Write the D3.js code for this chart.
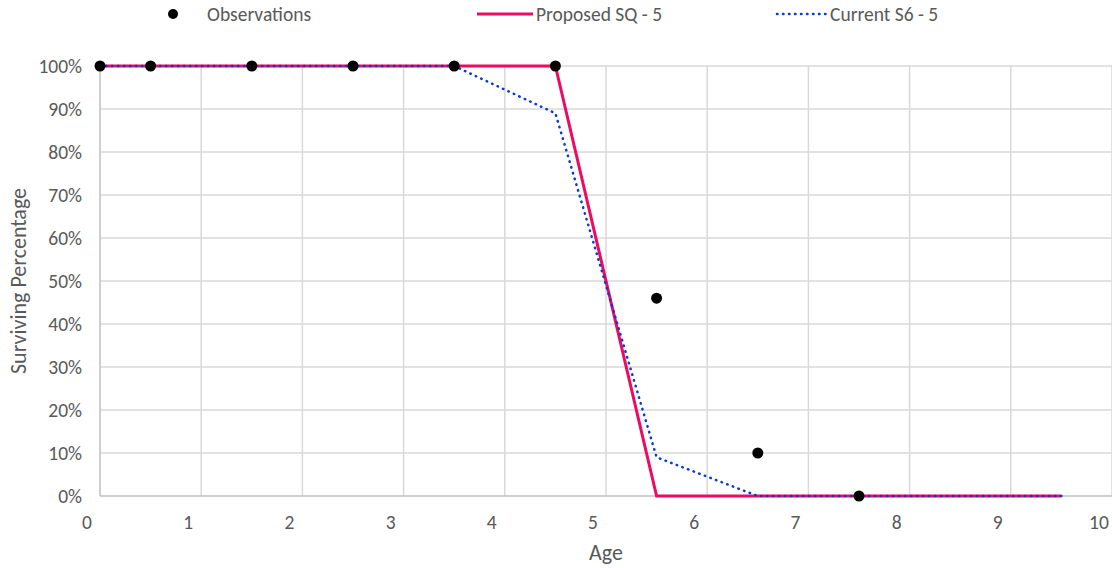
<!DOCTYPE html>
<html><head><meta charset="utf-8">
<script src="https://cdn.jsdelivr.net/npm/d3@7"></script>
<style>body{margin:0;background:#fff}svg{display:block}text{font-family:Carlito,Calibri,"Open Sans",sans-serif;fill:#595959}</style>
</head><body><svg id="c" width="1112" height="568"></svg>
<script>
const obsAge = [0, 0.5, 1.5, 2.5, 3.5, 4.5, 5.5, 6.5, 7.5];
const obsVal = [1, 1, 1, 1, 1, 1, 0.46, 0.10, 0];
const curveAge = [0, 0.5, 1.5, 2.5, 3.5, 4.5, 5.5, 6.5, 7.5, 8.5, 9.5];
const proposedVal = [1, 1, 1, 1, 1, 1, 0, 0, 0, 0, 0];
const currentVal = [1, 1, 1, 1, 1, 0.89, 0.09, 0, 0, 0, 0];
const xTicks = [0,1,2,3,4,5,6,7,8,9,10];
const yTicks = [0,0.1,0.2,0.3,0.4,0.5,0.6,0.7,0.8,0.9,1];

const svg = d3.select("#c");
const x = d3.scaleLinear().domain([0,10]).range([100,1112]);
const y = d3.scaleLinear().domain([0,1]).range([496,66]);
const labelShift = -13;
const fs = 19.5, tfs = 22;

// gridlines
svg.append("g").selectAll("line").data(yTicks.filter(d=>d>0)).join("line")
  .attr("x1",x(0)).attr("x2",x(10)).attr("y1",d=>y(d)).attr("y2",d=>y(d))
  .attr("stroke","#d9d9d9").attr("stroke-width",1.5);
svg.append("g").selectAll("line").data(xTicks.filter(d=>d>0)).join("line")
  .attr("x1",d=>x(d)).attr("x2",d=>x(d)).attr("y1",y(0)).attr("y2",y(1))
  .attr("stroke","#d9d9d9").attr("stroke-width",1.5);
// axes lines
svg.append("line").attr("x1",x(0)).attr("x2",x(10)).attr("y1",y(0)).attr("y2",y(0)).attr("stroke","#bfbfbf").attr("stroke-width",1.5);
svg.append("line").attr("x1",x(0)).attr("x2",x(0)).attr("y1",y(0)).attr("y2",y(1)).attr("stroke","#bfbfbf").attr("stroke-width",1.5);

// tick labels
const fmt = d3.format(".0%");
svg.append("g").selectAll("text").data(yTicks).join("text")
  .attr("x",82).attr("y",d=>y(d)).attr("dy","0.35em").attr("text-anchor","end")
  .attr("font-size",fs).text(d=>fmt(d));
svg.append("g").selectAll("text").data(xTicks).join("text")
  .attr("x",d=>x(d)+labelShift).attr("y",529).attr("text-anchor","middle")
  .attr("font-size",fs).text(d=>d);

// titles
svg.append("text").attr("x",606).attr("y",560).attr("text-anchor","middle").attr("font-size",tfs).text("Age");
svg.append("text").attr("transform","translate(26,281) rotate(-90)").attr("text-anchor","middle").attr("font-size",tfs).text("Surviving Percentage");

// lines
const line = d3.line().x(d=>x(d[0])).y(d=>y(d[1]));
svg.append("path").datum(curveAge.map((a,i)=>[a,proposedVal[i]])).attr("d",line)
  .attr("fill","none").attr("stroke","#ED0A63").attr("stroke-width",3);
svg.append("path").datum(curveAge.map((a,i)=>[a,currentVal[i]])).attr("d",line)
  .attr("fill","none").attr("stroke","#0A3AD6").attr("stroke-width",2.5)
  .attr("stroke-dasharray","0.5,5.5").attr("stroke-linecap","round");

// observations
svg.append("g").selectAll("circle").data(obsAge.map((a,i)=>[a,obsVal[i]])).join("circle")
  .attr("cx",d=>x(d[0])).attr("cy",d=>y(d[1])).attr("r",5.5).attr("fill","#000");

// legend
const lg = svg.append("g");
lg.append("circle").attr("cx",173).attr("cy",14).attr("r",5).attr("fill","#000");
lg.append("text").attr("x",207).attr("y",14).attr("dy","0.35em").attr("font-size",fs).text("Observations");
lg.append("line").attr("x1",477).attr("x2",533).attr("y1",14).attr("y2",14).attr("stroke","#ED0A63").attr("stroke-width",3);
lg.append("text").attr("x",536).attr("y",14).attr("dy","0.35em").attr("font-size",fs).text("Proposed SQ - 5");
lg.append("line").attr("x1",777).attr("x2",828).attr("y1",14).attr("y2",14).attr("stroke","#0A3AD6").attr("stroke-width",2.5).attr("stroke-dasharray","0.5,5.5").attr("stroke-linecap","round");
lg.append("text").attr("x",830).attr("y",14).attr("dy","0.35em").attr("font-size",fs).text("Current S6 - 5");
</script></body></html>
